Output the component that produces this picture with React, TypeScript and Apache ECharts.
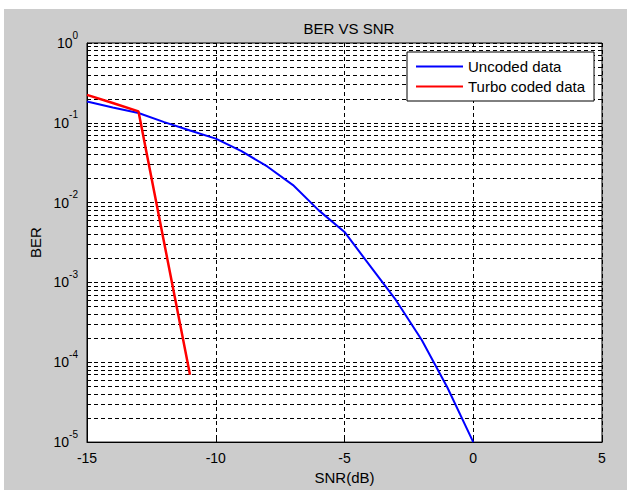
import React, { useEffect, useRef } from "react";
import * as echarts from "echarts";

const snrUncoded = [-15, -14, -13, -12, -11, -10, -9, -8, -7, -6, -5, -4, -3, -2, -1, 0];
const berUncoded = [0.185, 0.156, 0.133, 0.102, 0.08, 0.0634, 0.0442, 0.0284, 0.0166, 0.008, 0.0043, 0.0016, 0.0006, 0.00019, 0.000048, 0.00001];
const snrTurbo = [-15, -14, -13, -12, -11];
const berTurbo = [0.224, 0.177, 0.139, 0.0031, 0.00007];
const decades = [1e-5, 1e-4, 1e-3, 1e-2, 1e-1];
const minorMultipliers = [2, 3, 4, 5, 6, 7, 8, 9];
const seriesNames = ["Uncoded data", "Turbo coded data"];
const xMin = -15;
const xMax = 5;

const FONT = "Liberation Sans, Arial, sans-serif";

export default function App() {
  const ref = useRef<HTMLDivElement>(null);
  useEffect(() => {
    if (!ref.current) return;
    const chart = echarts.init(ref.current, null, { renderer: "svg" });
    const minorLines: { coords: number[][] }[] = [];
    decades.forEach((d) =>
      minorMultipliers.forEach((m) =>
        minorLines.push({ coords: [[xMin, d * m], [xMax, d * m]] })
      )
    );
    const dash = { type: [4, 3] as number[], color: "#000", width: 1, opacity: 1 };
    chart.setOption({
      animation: false,
      backgroundColor: "#fff",
      textStyle: { fontFamily: FONT },
      graphic: [
        {
          type: "rect",
          z: -100,
          shape: { x: 4, y: 9, width: 623, height: 481 },
          style: { fill: "#cccccc" },
          silent: true,
        },
      ],
      title: {
        text: "BER VS SNR",
        left: 344,
        textAlign: "center",
        top: 16,
        textStyle: { fontSize: 15, fontWeight: "normal", color: "#000", fontFamily: FONT },
      },
      grid: {
        left: 87,
        top: 43,
        right: 25,
        bottom: 42,
        show: true,
        backgroundColor: "#fff",
        borderColor: "#000",
        borderWidth: 1,
      },
      legend: {
        orient: "vertical",
        left: 407,
        top: 52,
        backgroundColor: "#fff",
        borderColor: "#000",
        borderWidth: 1,
        padding: [7, 9, 7, 9],
        itemGap: 5,
        itemWidth: 47,
        itemHeight: 2,
        icon: "rect",
        textStyle: { fontSize: 15, color: "#000", fontFamily: FONT },
        data: seriesNames,
      },
      xAxis: {
        type: "value",
        min: xMin,
        max: xMax,
        interval: 5,
        name: "SNR(dB)",
        nameLocation: "middle",
        nameGap: 22,
        nameTextStyle: { fontSize: 15, color: "#000", fontFamily: FONT },
        axisLine: { show: true, onZero: false, lineStyle: { color: "#000", width: 1 } },
        axisTick: { show: true, inside: true, length: 5, lineStyle: { color: "#000" } },
        axisLabel: { fontSize: 14, color: "#000", margin: 9, fontFamily: FONT },
        splitLine: { show: true, lineStyle: dash },
      },
      yAxis: {
        type: "log",
        logBase: 10,
        min: 1e-5,
        max: 1,
        name: "BER",
        nameLocation: "middle",
        nameGap: 43,
        nameRotate: 90,
        nameTextStyle: { fontSize: 15, color: "#000", fontFamily: FONT },
        axisLine: { show: true, onZero: false, lineStyle: { color: "#000", width: 1 } },
        axisTick: { show: true, inside: true, length: 5, lineStyle: { color: "#000" } },
        axisLabel: {
          margin: 9,
          color: "#000",
          formatter: (v: number) => {
            const e = Math.round(Math.log10(v));
            return `{b|10}{s|${e}}`;
          },
          rich: {
            b: { fontSize: 14, color: "#000", fontFamily: FONT, lineHeight: 16, verticalAlign: "middle" },
            s: { fontSize: 10, color: "#000", fontFamily: FONT, lineHeight: 26, verticalAlign: "top" },
          },
        },
        splitLine: { show: true, lineStyle: dash },
      },
      series: [
        {
          name: "minor-grid",
          type: "lines",
          coordinateSystem: "cartesian2d",
          silent: true,
          z: 1,
          lineStyle: dash,
          data: minorLines,
        },
        {
          name: seriesNames[0],
          type: "line",
          data: snrUncoded.map((x, i) => [x, berUncoded[i]]),
          symbol: "none",
          lineStyle: { color: "#0000ff", width: 2 },
          itemStyle: { color: "#0000ff" },
          z: 3,
        },
        {
          name: seriesNames[1],
          type: "line",
          data: snrTurbo.map((x, i) => [x, berTurbo[i]]),
          symbol: "none",
          lineStyle: { color: "#ff0000", width: 2.5 },
          itemStyle: { color: "#ff0000" },
          z: 3,
        },
      ],
    });
    return () => chart.dispose();
  }, []);
  return (
    <div
      ref={ref}
      style={{ position: "absolute", left: 0, top: 0, width: 627, height: 490 }}
    />
  );
}
